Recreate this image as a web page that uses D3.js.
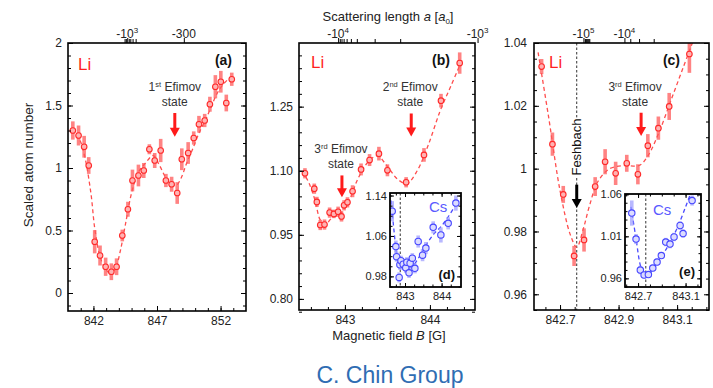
<!DOCTYPE html>
<html>
<head>
<meta charset="utf-8">
<script src="https://cdn.jsdelivr.net/npm/d3@7"></script>
<style>
body { margin: 0; background: #fff; }
text { font-family: "Liberation Sans", Arial, sans-serif; }
</style>
</head>
<body>
<svg id="fig" width="713" height="388"></svg>
<script>
// ---- data ----
// (a) Li, wide scan
var aField = [840.38, 840.83, 841.27, 841.63, 842.10, 842.52, 842.96, 843.41, 843.82, 844.27,
    844.71, 845.07, 845.54, 845.96, 846.40, 846.82, 847.29, 847.70, 848.15, 848.59,
    848.95, 849.45, 849.89, 850.30, 850.75, 851.16, 851.59, 852.02, 852.45, 852.88];
var aAtoms = [1.30, 1.26, 1.17, 1.02, 0.41, 0.30, 0.21, 0.17, 0.21, 0.46,
    0.67, 0.90, 0.94, 0.98, 1.15, 1.06, 1.14, 0.90, 0.87, 0.80,
    1.07, 1.12, 1.24, 1.35, 1.38, 1.51, 1.65, 1.69, 1.52, 1.71];
var aErr = [0.073, 0.08, 0.087, 0.067, 0.093, 0.08, 0.073, 0.067, 0.067, 0.047,
    0.06, 0.087, 0.087, 0.06, 0.04, 0.06, 0.093, 0.053, 0.06, 0.087,
    0.087, 0.087, 0.053, 0.067, 0.053, 0.06, 0.093, 0.087, 0.067, 0.053];
var aFitField = [840.3, 840.9, 841.3, 841.8, 842.1, 842.5, 842.9, 843.3, 843.7, 844.1, 844.5, 845.0, 845.5, 846.1,
    846.7, 847.2, 847.7, 848.1, 848.5, 848.9, 849.3, 849.8, 850.3, 850.8, 851.3, 851.8, 852.3, 852.7];
var aFitAtoms = [1.31, 1.23, 1.10, 0.80, 0.52, 0.30, 0.20, 0.16, 0.19, 0.33, 0.54, 0.80, 0.96, 1.04,
    1.10, 1.02, 0.92, 0.87, 0.86, 0.92, 1.03, 1.15, 1.28, 1.38, 1.50, 1.61, 1.68, 1.72];

// (b) Li, zoom
var bField = [842.53, 842.64, 842.67, 842.71, 842.76, 842.82, 842.87, 842.92, 842.96, 842.99,
    843.03, 843.09, 843.19, 843.29, 843.40, 843.50, 843.72, 843.93, 844.13, 844.35];
var bAtoms = [1.094, 1.058, 1.027, 0.973, 0.974, 1.002, 0.999, 1.004, 0.993, 1.019,
    1.026, 1.052, 1.103, 1.125, 1.140, 1.101, 1.073, 1.137, 1.264, 1.352];
var bErr = [0.012, 0.012, 0.012, 0.012, 0.012, 0.012, 0.010, 0.012, 0.012, 0.012,
    0.012, 0.014, 0.014, 0.014, 0.016, 0.014, 0.012, 0.016, 0.016, 0.025];
var bFitField = [842.50, 842.58, 842.65, 842.71, 842.77, 842.85, 842.95, 843.05, 843.15, 843.27,
    843.38, 843.50, 843.62, 843.73, 843.85, 843.98, 844.12, 844.25, 844.38];
var bFitAtoms = [1.100, 1.070, 1.030, 0.985, 0.975, 0.990, 1.000, 1.030, 1.080, 1.120,
    1.135, 1.110, 1.080, 1.070, 1.100, 1.160, 1.240, 1.300, 1.360];

// (c) Li, close to the resonance
var cField = [842.637, 842.674, 842.711, 842.748, 842.782, 842.820, 842.854, 842.890, 842.928, 842.966,
    843.000, 843.036, 843.073, 843.142];
var cAtoms = [1.0325, 1.0078, 0.9918, 0.9722, 0.9773, 0.9943, 1.0022, 0.9985, 1.0017, 0.9982,
    1.0073, 1.0129, 1.0198, 1.0365];
var cErr = [0.0024, 0.0037, 0.0027, 0.0032, 0.0037, 0.0030, 0.0040, 0.0037, 0.0027, 0.0032,
    0.0037, 0.0037, 0.0043, 0.0060];
var cFitField = [842.625, 842.66, 842.70, 842.735, 842.757, 842.78, 842.80, 842.83, 842.87, 842.92,
    842.97, 843.00, 843.04, 843.08, 843.12, 843.16];
var cFitAtoms = [1.037, 1.017, 0.993, 0.979, 0.975, 0.981, 0.988, 0.996, 1.000, 1.001,
    1.001, 1.004, 1.012, 1.022, 1.032, 1.042];

// (d) Cs inset
var dField = [842.65, 842.75, 842.77, 842.84, 842.86, 842.89, 842.95, 843.02, 843.05, 843.11,
    843.14, 843.20, 843.27, 843.36, 843.48, 843.57, 843.77, 843.98, 844.18, 844.39];
var dAtoms = [1.109, 1.039, 1.019, 0.978, 1.003, 1.011, 1.004, 0.997, 1.008, 0.987,
    1.006, 1.016, 0.996, 1.049, 1.022, 1.036, 1.077, 1.062, 1.085, 1.125];
var dErr = [0.02, 0.012, 0.01, 0.01, 0.01, 0.01, 0.01, 0.01, 0.01, 0.01,
    0.01, 0.01, 0.01, 0.012, 0.012, 0.012, 0.012, 0.015, 0.012, 0.015];
var dFitField = [842.62, 842.70, 842.78, 842.86, 843.00, 843.20, 843.40, 843.60, 843.80, 844.00, 844.20, 844.45];
var dFitAtoms = [1.130, 1.070, 1.020, 0.998, 0.995, 1.000, 1.020, 1.045, 1.065, 1.080, 1.100, 1.130];

// (e) Cs inset
var eField = [842.647, 842.683, 842.719, 842.751, 842.787, 842.824, 842.860, 842.896, 842.933, 842.969,
    843.003, 843.054, 843.079, 843.155];
var eAtoms = [1.0377, 1.0068, 0.9699, 0.9640, 0.9645, 0.9722, 0.9794, 0.9871, 1.0032, 1.0008,
    1.0092, 1.0229, 1.0133, 1.0526];
var eErr = [0.015, 0.006, 0.005, 0.004, 0.004, 0.004, 0.004, 0.004, 0.005, 0.005,
    0.005, 0.005, 0.005, 0.006];
var eFitField = [842.64, 842.68, 842.72, 842.755, 842.79, 842.85, 842.95, 843.03, 843.10, 843.14];
var eFitAtoms = [1.045, 1.010, 0.975, 0.962, 0.965, 0.976, 0.998, 1.020, 1.045, 1.060];

// resonance positions (dashed verticals)
var feshbachC = 842.757, feshbachD = 842.87, feshbachE = 842.765;

// tick labels
var aYTicks = [0, 0.5, 1, 1.5, 2], aYLabels = ["0", "0.5", "1", "1.5", "2"];
var aXTicks = [842, 847, 852], aXLabels = ["842", "847", "852"];
var bYTicks = [0.80, 0.95, 1.10, 1.25], bYLabels = ["0.80", "0.95", "1.10", "1.25"];
var bXTicks = [843, 844], bXLabels = ["843", "844"];
var cYTicks = [0.96, 0.98, 1, 1.02, 1.04], cYLabels = ["0.96", "0.98", "1", "1.02", "1.04"];
var cXTicks = [842.7, 842.9, 843.1], cXLabels = ["842.7", "842.9", "843.1"];
var dYTicks = [0.98, 1.06, 1.14], dYLabels = ["0.98", "1.06", "1.14"];
var dXTicks = [843, 844], dXLabels = ["843", "844"];
var eYTicks = [0.96, 1.01, 1.06], eYLabels = ["0.96", "1.01", "1.06"];
var eXTicks = [842.7, 843.1], eXLabels = ["842.7", "843.1"];

// scattering length (top) ticks, placed at the field where they sit
var aTopTicks = [844.66, 849.11], aTopLabels = ["-10^3", "-300"];
var aTopMinor = [844.45, 844.55, 844.78, 844.9, 845.08, 845.32];
var bTopTicks = [842.92, 844.56], bTopLabels = ["-10^4", "-10^3"];
var bTopMinor = [842.94, 842.96, 842.985, 843.02, 843.07, 843.14, 843.35, 843.65];
var cTopTicks = [842.78, 842.92], cTopLabels = ["-10^5", "-10^4"];
var cTopMinor = [842.785, 842.788, 842.791, 842.794, 842.797, 842.80, 842.94, 842.97, 843.02];

// ---- drawing ----
var svg = d3.select("#fig");
var clipN = 0;

function makePanel(box, xDom, yDom) {
    var x = d3.scaleLinear().domain(xDom).range([box.x0, box.x1]);
    var y = d3.scaleLinear().domain(yDom).range([box.y1, box.y0]);
    var id = "clip" + (clipN++);
    svg.append("clipPath").attr("id", id).append("rect")
        .attr("x", box.x0).attr("y", box.y0)
        .attr("width", box.x1 - box.x0).attr("height", box.y1 - box.y0);
    var g = svg.append("g");
    return { g: g, x: x, y: y, box: box, clip: "url(#" + id + ")" };
}

function axisPart(p, axis, vals, size, labels, tx, ty, font, pad) {
    var a = axis.tickValues(vals).tickSize(-size).tickPadding(pad)
        .tickFormat(labels ? function (d, i) { return labels[i]; } : "");
    var gg = p.g.append("g")
        .attr("transform", "translate(" + tx + "," + ty + ")")
        .call(a);
    gg.attr("font-size", font).attr("font-family", "Liberation Sans, Arial, sans-serif");
    gg.select(".domain").remove();
    gg.selectAll("line").attr("stroke", "#000").attr("stroke-width", 1);
    gg.selectAll("text").attr("fill", "#222");
    return gg;
}

function drawFrame(p, o) {
    var b = p.box;
    axisPart(p, d3.axisLeft(p.y), o.yTicks, o.major, o.yLabels, b.x0, 0, o.font, o.padY);
    axisPart(p, d3.axisLeft(p.y), o.yMinor, o.minor, null, b.x0, 0, o.font, o.padY);
    axisPart(p, d3.axisRight(p.y), o.yTicks, o.major, null, b.x1, 0, o.font, o.padY);
    axisPart(p, d3.axisRight(p.y), o.yMinor, o.minor, null, b.x1, 0, o.font, o.padY);
    axisPart(p, d3.axisBottom(p.x), o.xTicks, o.major, o.xLabels, 0, b.y1, o.font, o.padX);
    axisPart(p, d3.axisBottom(p.x), o.xMinor, o.minor, null, 0, b.y1, o.font, o.padX);
    if (o.topX) {
        axisPart(p, d3.axisTop(p.x), o.xTicks, o.major, null, 0, b.y0, o.font, o.padX);
        axisPart(p, d3.axisTop(p.x), o.xMinor, o.minor, null, 0, b.y0, o.font, o.padX);
    }
    p.g.append("rect")
        .attr("x", b.x0).attr("y", b.y0)
        .attr("width", b.x1 - b.x0).attr("height", b.y1 - b.y0)
        .attr("fill", "none").attr("stroke", "#000").attr("stroke-width", o.frame);
}

function drawTop(p, ticks, labels, minor) {
    var b = p.box;
    axisPart(p, d3.axisTop(p.x), ticks, -5, null, 0, b.y0, 12, 4);
    axisPart(p, d3.axisTop(p.x), minor, -4, null, 0, b.y0, 12, 4);
    labels.forEach(function (s, i) {
        var parts = s.split("^");
        var t = p.g.append("text")
            .attr("x", p.x(ticks[i])).attr("y", b.y0 - 5)
            .attr("text-anchor", "middle").attr("font-size", 12).attr("fill", "#222");
        t.append("tspan").text(parts[0]);
        if (parts[1]) {
            t.append("tspan").attr("font-size", 8).attr("dy", -5).text(parts[1]);
        }
    });
}

function drawSeries(p, xs, ys, es, fx, fy, st) {
    var line = d3.line()
        .x(function (d) { return p.x(d[0]); })
        .y(function (d) { return p.y(d[1]); })
        .curve(d3.curveCatmullRom.alpha(0.5));
    var inner = p.g.append("g").attr("clip-path", p.clip);
    inner.append("path")
        .datum(d3.zip(fx, fy))
        .attr("d", line)
        .attr("fill", "none")
        .attr("stroke", st.line)
        .attr("stroke-width", 1.3)
        .attr("stroke-dasharray", "4,3");
    var pts = d3.zip(xs, ys, es);
    inner.selectAll("line.err").data(pts).enter().append("line")
        .attr("x1", function (d) { return p.x(d[0]); })
        .attr("x2", function (d) { return p.x(d[0]); })
        .attr("y1", function (d) { return p.y(d[1] - d[2]); })
        .attr("y2", function (d) { return p.y(d[1] + d[2]); })
        .attr("stroke", st.bar).attr("stroke-opacity", st.barOp)
        .attr("stroke-width", 3.6);
    inner.selectAll("circle").data(pts).enter().append("circle")
        .attr("cx", function (d) { return p.x(d[0]); })
        .attr("cy", function (d) { return p.y(d[1]); })
        .attr("r", st.r)
        .attr("fill", st.fill)
        .attr("stroke", st.dot).attr("stroke-width", 1.1);
}

function vDash(p, B, y0, y1, color) {
    p.g.append("line")
        .attr("x1", p.x(B)).attr("x2", p.x(B))
        .attr("y1", y0).attr("y2", y1)
        .attr("stroke", color).attr("stroke-width", 1)
        .attr("stroke-dasharray", "2.5,2");
}

function arrow(p, B, from, to, color) {
    var x = p.x(B), y0 = p.y(from), y1 = p.y(to);
    p.g.append("line").attr("x1", x).attr("x2", x).attr("y1", y0).attr("y2", y1 - 7)
        .attr("stroke", color).attr("stroke-width", 3);
    p.g.append("path")
        .attr("d", "M" + (x - 5) + "," + (y1 - 9) + "L" + (x + 5) + "," + (y1 - 9) + "L" + x + "," + y1 + "Z")
        .attr("fill", color);
    return { x: x, y: y0 };
}

function efimov(p, a, ord, sup, dx) {
    var t = p.g.append("text").attr("x", a.x + dx).attr("y", a.y - 22)
        .attr("text-anchor", "middle").attr("font-size", 12).attr("fill", "#333");
    t.append("tspan").text(ord);
    t.append("tspan").attr("font-size", 7.5).attr("dy", -4).text(sup);
    t.append("tspan").attr("dy", 4).text(" Efimov");
    p.g.append("text").attr("x", a.x + dx).attr("y", a.y - 7)
        .attr("text-anchor", "middle").attr("font-size", 12).attr("fill", "#333").text("state");
}

function label(p, x, y, s, size, color, bold, anchor) {
    p.g.append("text").attr("x", x).attr("y", y).attr("font-size", size)
        .attr("fill", color).attr("font-weight", bold ? "bold" : "normal")
        .attr("text-anchor", anchor || "start").text(s);
}

var redStyle = { line: "#ff4d4d", bar: "#ff5a5a", barOp: 0.75, dot: "#ff2a2a", fill: "#ffb3b3", r: 2.8 };
var blueStyle = { line: "#4a4aff", bar: "#9a9aff", barOp: 0.7, dot: "#4646ff", fill: "#dcdcff", r: 3.2 };

// panel (a)
var pa = makePanel({ x0: 68, x1: 246, y0: 43, y1: 311 }, [840, 854], [-0.144, 2]);
drawSeries(pa, aField, aAtoms, aErr, aFitField, aFitAtoms, redStyle);
drawFrame(pa, { yTicks: aYTicks, yLabels: aYLabels, yMinor: d3.range(-0.1, 2.01, 0.1),
    xTicks: aXTicks, xLabels: aXLabels, xMinor: d3.range(841, 854, 1),
    major: 5, minor: 3, font: 12, padY: 6, padX: 5, frame: 1.6 });
drawTop(pa, aTopTicks, aTopLabels, aTopMinor);
label(pa, 78, 70, "Li", 17, "#ff1f1f");
label(pa, 232, 65, "(a)", 14, "#111", true, "end");
efimov(pa, arrow(pa, 848.4, 1.44, 1.25, "#ff1a1a"), "1", "st", 0);

// panel (b)
var pb = makePanel({ x0: 299, x1: 475, y0: 43, y1: 310 }, [842.46, 844.53], [0.774, 1.399]);
drawSeries(pb, bField, bAtoms, bErr, bFitField, bFitAtoms, redStyle);
drawFrame(pb, { yTicks: bYTicks, yLabels: bYLabels, yMinor: d3.range(0.77, 1.40, 0.03),
    xTicks: bXTicks, xLabels: bXLabels, xMinor: d3.range(842.6, 844.55, 0.2),
    major: 5, minor: 3, font: 12, padY: 6, padX: 5, frame: 1.6 });
drawTop(pb, bTopTicks, bTopLabels, bTopMinor);
label(pb, 311, 68, "Li", 17, "#ff1f1f");
label(pb, 450, 65, "(b)", 14, "#111", true, "end");
efimov(pb, arrow(pb, 843.78, 1.234, 1.180, "#ff1a1a"), "2", "nd", -1);
efimov(pb, arrow(pb, 842.965, 1.089, 1.038, "#ff1a1a"), "3", "rd", -1);

// inset (d)
var pd = makePanel({ x0: 390, x1: 461, y0: 193, y1: 287 }, [842.59, 844.53], [0.959, 1.145]);
pd.g.append("rect").attr("x", 390).attr("y", 193).attr("width", 71).attr("height", 94).attr("fill", "#fff");
vDash(pd, feshbachD, 193, 287, "#333");
drawSeries(pd, dField, dAtoms, dErr, dFitField, dFitAtoms, blueStyle);
drawFrame(pd, { yTicks: dYTicks, yLabels: dYLabels, yMinor: d3.range(0.96, 1.145, 0.02),
    xTicks: dXTicks, xLabels: dXLabels, xMinor: d3.range(842.75, 844.5, 0.25),
    major: 4, minor: 2.5, font: 11, padY: 3, padX: 5, frame: 1.8, topX: true });
label(pd, 429, 212, "Cs", 15, "#5a5aff");
label(pd, 455, 279, "(d)", 13, "#111", true, "end");

// panel (c)
var pc = makePanel({ x0: 534, x1: 709, y0: 43, y1: 310 }, [842.611, 843.209], [0.955, 1.04]);
vDash(pc, feshbachC, 43, 310, "#333");
drawSeries(pc, cField, cAtoms, cErr, cFitField, cFitAtoms, redStyle);
drawFrame(pc, { yTicks: cYTicks, yLabels: cYLabels, yMinor: d3.range(0.955, 1.041, 0.005),
    xTicks: cXTicks, xLabels: cXLabels, xMinor: d3.range(842.65, 843.21, 0.05),
    major: 5, minor: 3, font: 12, padY: 7, padX: 5, frame: 1.6 });
drawTop(pc, cTopTicks, cTopLabels, cTopMinor);
label(pc, 549, 68, "Li", 17, "#ff1f1f");
label(pc, 680, 65, "(c)", 14, "#111", true, "end");
efimov(pc, arrow(pc, 842.977, 1.0178, 1.0104, "#ff1a1a"), "3", "rd", -6);
var fa = arrow(pc, feshbachC, 0.9949, 0.9875, "#000");
pc.g.append("text")
    .attr("transform", "translate(" + (fa.x + 4.5) + ",147) rotate(-90)")
    .attr("text-anchor", "middle").attr("font-size", 13).attr("fill", "#111")
    .attr("stroke", "#fff").attr("stroke-width", 3).attr("paint-order", "stroke")
    .text("Feshbach");

// inset (e)
var pe = makePanel({ x0: 625, x1: 701, y0: 194, y1: 287 }, [842.59, 843.23], [0.9497, 1.0604]);
pe.g.append("rect").attr("x", 625).attr("y", 194).attr("width", 76).attr("height", 93).attr("fill", "#fff");
vDash(pe, feshbachE, 194, 287, "#333");
drawSeries(pe, eField, eAtoms, eErr, eFitField, eFitAtoms, blueStyle);
drawFrame(pe, { yTicks: eYTicks, yLabels: eYLabels, yMinor: d3.range(0.95, 1.061, 0.01),
    xTicks: eXTicks, xLabels: eXLabels, xMinor: d3.range(842.6, 843.22, 0.1),
    major: 4, minor: 2.5, font: 11, padY: 3, padX: 5, frame: 1.8, topX: true });
label(pe, 653, 215, "Cs", 15, "#5a5aff");
label(pe, 695, 276, "(e)", 13, "#111", true, "end");

// shared titles
svg.append("text")
    .attr("transform", "translate(33,165) rotate(-90)")
    .attr("text-anchor", "middle").attr("font-size", 13.5).attr("fill", "#222")
    .text("Scaled atom number");

var topTitle = svg.append("text").attr("x", 388).attr("y", 21)
    .attr("text-anchor", "middle").attr("font-size", 13).attr("fill", "#222");
topTitle.append("tspan").text("Scattering length ");
topTitle.append("tspan").attr("font-style", "italic").text("a");
topTitle.append("tspan").text(" [");
topTitle.append("tspan").attr("font-style", "italic").text("a");
topTitle.append("tspan").attr("font-size", 8).attr("dy", 3).text("0");
topTitle.append("tspan").attr("dy", -3).text("]");

var botTitle = svg.append("text").attr("x", 389).attr("y", 340)
    .attr("text-anchor", "middle").attr("font-size", 13).attr("fill", "#222");
botTitle.append("tspan").text("Magnetic field ");
botTitle.append("tspan").attr("font-style", "italic").text("B");
botTitle.append("tspan").text(" [G]");

svg.append("text").attr("x", 390).attr("y", 383)
    .attr("text-anchor", "middle").attr("font-size", 23)
    .attr("font-family", "Open Sans, sans-serif")
    .attr("fill", "#2f6db3")
    .text("C. Chin Group");
</script>
</body>
</html>
